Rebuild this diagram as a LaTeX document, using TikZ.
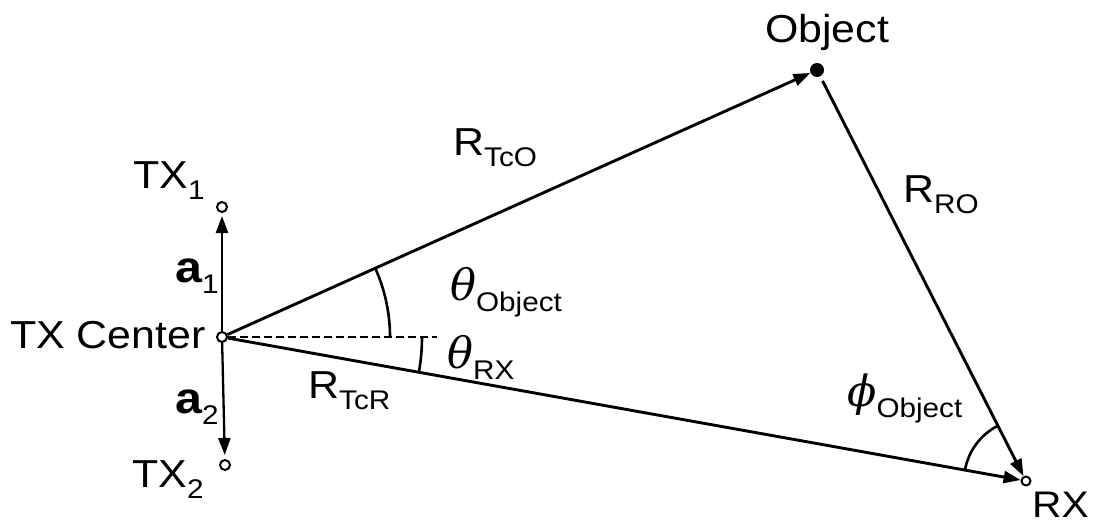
\documentclass[tikz,border=0pt]{standalone}
\usepackage{fontspec}
\setmainfont[FakeStretch=1.1]{Liberation Sans}
\newfontfamily\grkfont{DejaVu Serif}
\usetikzlibrary{arrows.meta}
\newcommand\lsub[1]{\raisebox{-11pt}{\fontsize{27}{30}\selectfont #1}}
\newcommand\gsym[1]{{\fontsize{43}{46}\grkfont\itshape #1}}
\begin{document}
\begin{tikzpicture}[x=1pt,y=-1pt,
  pt/.style={circle,draw,fill=white,line width=2pt,inner sep=0pt,minimum size=10pt},
  dotpt/.style={circle,fill=black,inner sep=0pt,minimum size=14pt},
  lbl/.style={anchor=base west,inner sep=0pt,font=\fontsize{39}{44}\selectfont},
  ln/.style={line width=2.9pt},
  arr/.style={ln,-{Triangle[length=17pt,width=12pt]}},
  ang/.style={line width=2.6pt}]
\useasboundingbox (0,0) rectangle (1093,525);
% points
\node[pt] (tc) at (222,337) {};
\node[pt] (tx1) at (222,207) {};
\node[pt] (tx2) at (225,465) {};
\node[dotpt] (obj) at (817,70) {};
\node[pt,minimum size=9pt] (rx) at (1026,481) {};
\coordinate (dend) at (437,337);
% connectors
\draw[arr] (tc) -- (obj);
\draw[arr] (tc) -- (rx);
\draw[arr,shorten <=5pt] (obj) -- (rx);
\draw[arr,line width=2.3pt,shorten >=3pt] (tc) -- (tx1);
\draw[arr,line width=2.3pt,shorten >=4pt] (tc) -- (tx2);
\draw[line width=2.2pt,dash pattern=on 8pt off 4pt] (tc) -- (dend);
% angle arcs
\draw[ang] (tc.center) ++(-24.17:168) arc[start angle=-24.17,end angle=0,radius=168];
\draw[ang] (tc.center) ++(0:200) arc[start angle=0,end angle=10.1,radius=200];
\draw[ang] (rx.center) ++(190.1:62) arc[start angle=190.1,end angle=243.1,radius=62];
% labels
\node[lbl] (ltx1) at (133,188) {TX\lsub{1}};
\node[lbl] (ltx2) at (132,487) {TX\lsub{2}};
\node[lbl] (ltc) at (10,348) {TX Center};
\node[lbl] (la1) at (175,282) {{\fontsize{44}{48}\selectfont\bfseries a}\lsub{1}};
\node[lbl] (la2) at (175,413) {{\fontsize{44}{48}\selectfont\bfseries a}\lsub{2}};
\node[lbl] (lobj) at (765,42) {Object};
\node[lbl] (lrto) at (453,155) {R\lsub{TcO}};
\node[lbl] (lrro) at (903,202) {R\lsub{RO}};
\node[lbl] (lrtr) at (308,398) {R\lsub{TcR}};
\node[lbl] (lto) at (450,300) {\gsym{θ}\lsub{Object}};
\node[lbl] (ltr) at (447,368) {\gsym{θ}\lsub{RX}};
\node[lbl] (lpo) at (847,406) {\gsym{ϕ}\lsub{Object}};
\node[lbl,font=\fontsize{37}{40}\selectfont] (lrx) at (1032,517) {RX};
\end{tikzpicture}
\end{document}
